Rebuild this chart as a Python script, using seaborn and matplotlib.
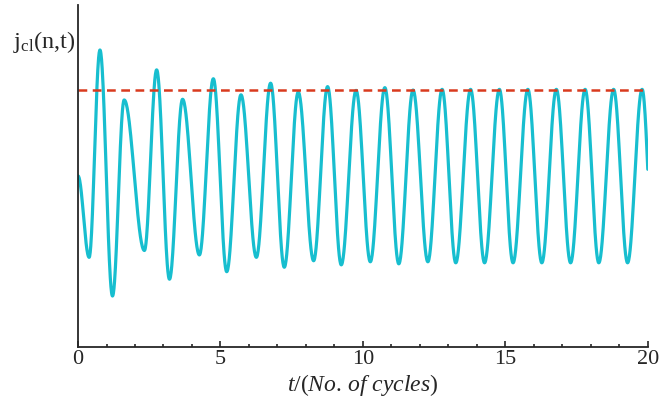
import numpy as np
import pandas as pd
import matplotlib
matplotlib.use("Agg")
import matplotlib.pyplot as plt
from matplotlib.ticker import MultipleLocator
import seaborn as sns

# extremos (tempo em ciclos, corrente em unidades arbitrarias)
t_ext = [0.0, 0.39, 0.77, 1.21, 1.62, 2.33, 2.76, 3.21, 3.67, 4.26, 4.75, 5.22,
         5.72, 6.26, 6.76, 7.24, 7.73, 8.27, 8.76, 9.24, 9.76, 10.26, 10.77,
         11.26, 11.76, 12.28, 12.78, 13.26, 13.78, 14.27, 14.79, 15.27, 15.79,
         16.28, 16.79, 17.29, 17.80, 18.28, 18.80, 19.29, 19.80, 20.22]
j_ext = [0.500, 0.262, 0.868, 0.149, 0.722, 0.282, 0.810, 0.198, 0.724, 0.269,
         0.784, 0.220, 0.737, 0.262, 0.771, 0.233, 0.745, 0.252, 0.761, 0.240,
         0.750, 0.249, 0.758, 0.243, 0.751, 0.249, 0.753, 0.246, 0.753, 0.246,
         0.753, 0.246, 0.753, 0.246, 0.753, 0.246, 0.753, 0.246, 0.753, 0.246,
         0.753, 0.246]
j_classico = 0.751
x_ticks = [0, 5, 10, 15, 20]

# curva suave entre os extremos (meia-onda de cosseno entre cada par)
tt, jj = [], []
for k in range(len(t_ext) - 1):
    s = np.linspace(0, 1, 40, endpoint=False)
    tt.extend(t_ext[k] + s * (t_ext[k + 1] - t_ext[k]))
    jj.extend(j_ext[k] + (0.5 - 0.5 * np.cos(np.pi * s)) * (j_ext[k + 1] - j_ext[k]))
df = pd.DataFrame({"t": tt, "j": jj})
df = df[df["t"] <= 20.0]

sns.set_style("ticks")
plt.rcParams["font.family"] = ["Liberation Serif", "DejaVu Serif"]
plt.rcParams["mathtext.fontset"] = "custom"
plt.rcParams["mathtext.rm"] = "Liberation Serif"
plt.rcParams["mathtext.it"] = "Liberation Serif:italic"

fig = plt.figure(figsize=(6.59, 4.03), dpi=100)
ax = fig.add_axes([0.1184, 0.139, 0.8646, 0.849])

sns.lineplot(data=df, x="t", y="j", ax=ax, color="#17becf", linewidth=2.3,
             estimator=None, sort=False)
ax.axhline(j_classico, color="#d93a1e", linewidth=1.8, linestyle=(0, (3.5, 2.2)))

ax.set_xlim(0, 20)
ax.set_ylim(0, 1)
ax.set_xticks(x_ticks)
ax.set_xticklabels([str(v) for v in x_ticks])
ax.xaxis.set_minor_locator(MultipleLocator(1))
ax.set_yticks([])
ax.tick_params(axis="x", which="major", direction="in", length=4, width=1.2,
               labelsize=16, pad=2)
ax.tick_params(axis="x", which="minor", direction="in", length=2, width=1.2)
sns.despine(ax=ax)
for s in ["left", "bottom"]:
    ax.spines[s].set_linewidth(1.3)

ax.set_xlabel(r"$\it{t}$/($\it{No.\,of\ cycles}$)", fontsize=17, labelpad=2)
ax.set_ylabel("")
fig.text(75 / 659, 1 - 42 / 403, r"$\mathrm{j}_{\mathrm{cl}}$(n,t)",
         fontsize=17.5, ha="right", va="center")

fig.savefig("out.png", dpi=100)
